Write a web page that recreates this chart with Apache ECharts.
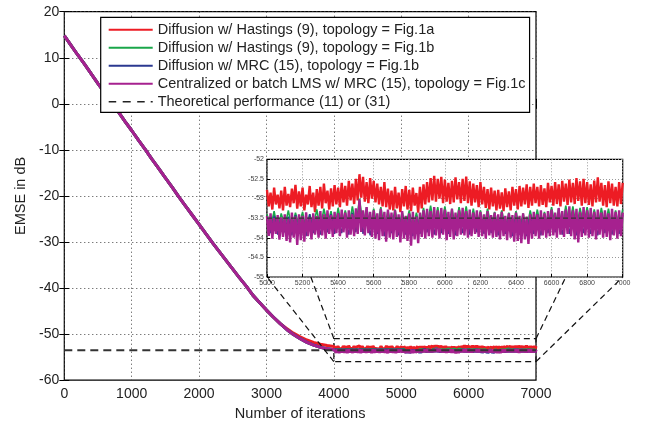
<!DOCTYPE html>
<html><head><meta charset="utf-8">
<script src="https://cdn.jsdelivr.net/npm/echarts@6/dist/echarts.min.js"></script>
<style>html,body{margin:0;padding:0;background:#fff}#c{width:646px;height:426px}</style>
</head><body><div id="c"></div>
<script>
// ---------- data ----------
const seriesNames = [
  'Diffusion w/ Hastings (9), topology = Fig.1a',
  'Diffusion w/ Hastings (9), topology = Fig.1b',
  'Diffusion w/ MRC (15), topology = Fig.1b',
  'Centralized or batch LMS w/ MRC (15), topology = Fig.1c',
  'Theoretical performance (11) or (31)'
];
const xTicksMain = [0, 1000, 2000, 3000, 4000, 5000, 6000, 7000];
const yTicksMain = [-60, -50, -40, -30, -20, -10, 0, 10, 20];
const xTicksInset = [5000, 7000, 200];   // min, max, step
const yTicksInset = [-55, -52, 0.5];

// transient part, iterations 0..4000 every 100
const curveTransient = [14.8,12.7,10.6,8.6,6.5,4.4,2.4,0.3,-1.7,-3.8,-5.8,-7.9,-9.9,-12.0,-14.0,-16.1,-18.1,-20.2,-22.2,-24.2,-26.2,-28.2,-30.2,-32.1,-34.0,-35.9,-37.8,-39.6,-41.6,-43.2,-44.8,-46.3,-47.7,-49.0,-50.1,-51.0,-51.8,-52.4,-52.9,-53.2,-53.4];
const redTransient = [14.8,12.7,10.6,8.6,6.5,4.4,2.4,0.3,-1.7,-3.8,-5.8,-7.9,-9.9,-12.0,-14.0,-16.1,-18.1,-20.2,-22.2,-24.2,-26.2,-28.2,-30.2,-32.1,-34.0,-35.9,-37.8,-39.6,-41.6,-43.2,-44.8,-46.3,-47.7,-48.8,-49.8,-50.6,-51.3,-51.8,-52.2,-52.5,-52.7];

// steady state, iterations 4020..4980 every 20
const redSteady4k = [-52.70,-53.20,-52.62,-53.15,-52.75,-53.25,-52.60,-53.12,-52.68,-53.22,
-52.55,-53.10,-52.72,-53.18,-52.64,-53.24,-52.78,-53.14,-52.58,-53.20,
-52.66,-53.12,-52.74,-53.26,-52.62,-53.16,-52.70,-53.22,-52.60,-53.10,
-52.68,-53.18,-52.76,-53.28,-52.64,-53.14,-52.72,-53.20,-52.58,-53.16,
-52.70,-53.24,-52.66,-53.12,-52.74,-53.20,-52.62,-53.18,-52.80];
const purpleSteady4k = [-53.40,-54.00,-53.34,-54.08,-53.46,-53.96,-53.32,-54.04,-53.42,-54.10,
-53.36,-53.98,-53.44,-54.06,-53.30,-53.94,-53.40,-54.02,-53.34,-54.08,
-53.46,-53.96,-53.38,-54.04,-53.32,-53.98,-53.42,-54.10,-53.36,-54.00,
-53.44,-53.94,-53.30,-54.06,-53.40,-53.98,-53.34,-54.04,-53.46,-54.12,
-53.38,-53.96,-53.42,-54.02,-53.32,-54.08,-53.40,-53.98,-53.44];

// zoomed window, iterations 5000..7000 every 10
const redInset = [
-52.78,-53.20,-52.85,-53.28,-52.72,-53.15,-52.90,-53.25,-52.80,-53.30,
-52.70,-53.18,-52.88,-53.22,-52.75,-53.12,-52.65,-53.26,-52.82,-53.20,
-52.72,-53.30,-52.90,-53.15,-52.68,-53.22,-52.85,-53.35,-52.76,-53.18,
-52.70,-53.25,-52.62,-53.12,-52.80,-53.28,-52.74,-53.20,-52.66,-53.15,
-52.72,-53.22,-52.60,-53.10,-52.68,-53.18,-52.55,-53.05,-52.62,-53.14,
-52.50,-53.05,-52.38,-52.98,-52.45,-53.08,-52.58,-53.12,-52.48,-53.00,
-52.55,-53.10,-52.62,-53.15,-52.70,-53.20,-52.58,-53.22,-52.75,-53.28,
-52.80,-53.30,-52.70,-53.25,-52.85,-53.35,-52.76,-53.20,-52.68,-53.28,
-52.78,-53.32,-52.72,-53.18,-52.86,-53.36,-52.70,-53.25,-52.64,-53.15,
-52.58,-53.10,-52.48,-53.05,-52.42,-53.08,-52.50,-53.00,-52.45,-53.12,
-52.52,-53.08,-52.60,-53.14,-52.55,-53.10,-52.46,-53.02,-52.58,-53.12,
-52.50,-53.06,-52.44,-53.12,-52.56,-53.18,-52.62,-53.10,-52.66,-53.22,
-52.58,-53.15,-52.70,-53.24,-52.76,-53.28,-52.72,-53.20,-52.80,-53.30,
-52.78,-53.26,-52.84,-53.32,-52.74,-53.22,-52.82,-53.30,-52.70,-53.18,
-52.76,-53.28,-52.68,-53.20,-52.72,-53.15,-52.64,-53.24,-52.70,-53.18,
-52.62,-53.12,-52.70,-53.20,-52.66,-53.16,-52.74,-53.22,-52.60,-53.10,
-52.68,-53.18,-52.58,-53.14,-52.64,-53.20,-52.55,-53.08,-52.62,-53.16,
-52.52,-53.10,-52.60,-53.14,-52.48,-53.06,-52.56,-53.18,-52.50,-53.12,
-52.58,-53.16,-52.64,-53.20,-52.54,-53.10,-52.46,-53.08,-52.60,-53.18,
-52.66,-53.22,-52.56,-53.12,-52.62,-53.18,-52.70,-53.20,-52.58,-53.14,
-52.60];
const purpleInset = [
-53.45,-53.95,-53.38,-54.02,-53.50,-53.90,-53.42,-54.05,-53.48,-53.98,
-53.40,-54.08,-53.52,-54.12,-53.36,-54.00,-53.46,-54.18,-53.40,-54.06,
-53.44,-54.10,-53.35,-53.96,-53.48,-54.04,-53.38,-53.92,-53.45,-54.00,
-53.32,-53.94,-53.40,-54.02,-53.30,-53.90,-53.42,-53.98,-53.34,-53.88,
-53.38,-53.96,-53.28,-53.86,-53.36,-54.00,-53.30,-53.92,-53.40,-53.96,
-53.25,-53.90,-53.02,-53.85,-53.30,-53.94,-53.22,-53.88,-53.34,-53.98,
-53.30,-54.02,-53.38,-54.06,-53.26,-53.96,-53.34,-54.10,-53.28,-54.00,
-53.36,-54.04,-53.30,-53.98,-53.40,-54.12,-53.32,-54.02,-53.44,-54.08,
-53.38,-54.20,-53.34,-54.04,-53.46,-54.14,-53.36,-53.98,-53.30,-54.02,
-53.26,-53.96,-53.32,-54.00,-53.22,-53.94,-53.30,-54.02,-53.24,-53.92,
-53.28,-54.06,-53.34,-53.98,-53.26,-54.04,-53.36,-53.96,-53.30,-53.92,
-53.24,-53.94,-53.32,-54.00,-53.28,-53.96,-53.36,-53.90,-53.30,-53.98,
-53.34,-53.96,-53.40,-54.02,-53.32,-53.94,-53.42,-54.00,-53.36,-53.98,
-53.40,-54.04,-53.34,-53.96,-53.44,-54.06,-53.38,-54.00,-53.42,-54.10,
-53.36,-54.08,-53.44,-54.14,-53.38,-54.04,-53.46,-54.16,-53.40,-54.02,
-53.34,-53.96,-53.40,-54.02,-53.30,-53.94,-53.38,-54.00,-53.32,-53.96,
-53.28,-53.94,-53.36,-54.00,-53.24,-53.92,-53.32,-53.98,-53.28,-53.90,
-53.20,-53.96,-53.30,-54.04,-53.26,-54.12,-53.34,-53.98,-53.22,-53.94,
-53.30,-54.00,-53.24,-53.96,-53.34,-54.04,-53.28,-53.92,-53.36,-54.00,
-53.30,-53.98,-53.38,-54.06,-53.26,-53.94,-53.34,-54.02,-53.30,-53.96,
-53.36];
// zoomed window, iterations 5000..7000 every 20
const greenInset = [
-53.40,-53.75,-53.32,-53.80,-53.38,-53.72,-53.30,-53.78,-53.36,-53.70,
-53.34,-53.82,-53.40,-53.74,-53.28,-53.76,-53.26,-53.70,-53.32,-53.80,
-53.24,-53.72,-53.30,-53.76,-53.20,-53.70,-53.00,-53.68,-53.22,-53.78,
-53.26,-53.74,-53.22,-53.80,-53.30,-53.72,-53.28,-53.78,-53.34,-53.70,
-53.30,-53.82,-53.36,-53.76,-53.24,-53.70,-53.18,-53.74,-53.22,-53.78,
-53.20,-53.72,-53.26,-53.76,-53.22,-53.70,-53.20,-53.80,-53.26,-53.74,
-53.30,-53.76,-53.26,-53.72,-53.34,-53.78,-53.30,-53.74,-53.36,-53.80,
-53.32,-53.76,-53.38,-53.82,-53.30,-53.74,-53.28,-53.78,-53.34,-53.72,
-53.22,-53.70,-53.26,-53.76,-53.18,-53.72,-53.20,-53.78,-53.24,-53.70,
-53.22,-53.74,-53.28,-53.76,-53.24,-53.72,-53.26,-53.78,-53.30,-53.74,
-53.28];
const blueInset = [
-53.48,-53.88,-53.44,-53.92,-53.50,-53.86,-53.46,-53.94,-53.42,-53.90,
-53.46,-53.96,-53.40,-53.88,-53.48,-53.92,-53.44,-53.86,-53.40,-53.90,
-53.38,-53.88,-53.42,-53.92,-53.36,-53.86,-53.20,-53.90,-53.40,-53.94,
-53.42,-53.90,-53.38,-53.96,-53.44,-53.88,-53.40,-53.94,-53.46,-53.92,
-53.42,-53.96,-53.46,-53.90,-53.38,-53.86,-53.34,-53.92,-53.38,-53.88,
-53.36,-53.90,-53.40,-53.94,-53.38,-53.88,-53.36,-53.92,-53.40,-53.86,
-53.44,-53.90,-53.40,-53.88,-53.46,-53.94,-53.42,-53.90,-53.48,-53.96,
-53.44,-53.92,-53.48,-53.96,-53.42,-53.90,-53.40,-53.94,-53.44,-53.88,
-53.36,-53.86,-53.40,-53.92,-53.34,-53.90,-53.36,-53.94,-53.40,-53.88,
-53.38,-53.90,-53.42,-53.94,-53.38,-53.88,-53.40,-53.92,-53.44,-53.90,
-53.42];
const theoryLevel = [-53.5];
const zoomBoxX = [4000, 7000];
const zoomBoxY = [-56, -51];

// ---------- build ----------
const FONT = '"Liberation Sans", Arial, Helvetica, sans-serif';
const colors = ['#ed1c24', '#1aa64a', '#2b3990', '#a6218f', '#333333'];
const insetWidths = [2.4, 1.6, 1.4, 2.4];
function pairs(start, step, arr) { return arr.map((v, i) => [start + i * step, v]); }
const plain = v => String(v);

const mainData = [
  pairs(0, 100, redTransient).concat(pairs(4020, 20, redSteady4k), pairs(5000, 10, redInset)),
  pairs(0, 100, curveTransient).concat(pairs(5000, 20, greenInset)),
  pairs(0, 100, curveTransient).concat(pairs(5000, 20, blueInset)),
  pairs(0, 100, curveTransient).concat(pairs(4020, 20, purpleSteady4k), pairs(5000, 10, purpleInset))
];
const insetData = [
  pairs(5000, 10, redInset),
  pairs(5000, 20, greenInset),
  pairs(5000, 20, blueInset),
  pairs(5000, 10, purpleInset)
];

const series = [];
for (let k = 0; k < 4; k++) {
  series.push({
    type: 'line', name: seriesNames[k], xAxisIndex: 0, yAxisIndex: 0,
    data: mainData[k], symbol: 'none', showSymbol: false, animation: false,
    lineStyle: { color: colors[k], width: 3 }, itemStyle: { color: colors[k] },
    emphasis: { disabled: true }, z: 2 + k * 0.1, clip: true
  });
}
series.push({
  type: 'line', name: seriesNames[4], xAxisIndex: 0, yAxisIndex: 0,
  data: [[xTicksMain[0], theoryLevel[0]], [xTicksMain[xTicksMain.length - 1], theoryLevel[0]]],
  symbol: 'none', showSymbol: false, animation: false,
  lineStyle: { color: '#333', width: 2, type: [8, 5] }, itemStyle: { color: '#222' },
  emphasis: { disabled: true }, z: 3,
  markArea: {
    silent: true, label: { show: false },
    itemStyle: { color: 'rgba(0,0,0,0)', borderColor: '#111', borderWidth: 1.2, borderType: [6, 4] },
    data: [[{ coord: [zoomBoxX[0], zoomBoxY[1]] }, { coord: [zoomBoxX[1], zoomBoxY[0]] }]]
  }
});
for (let k = 0; k < 4; k++) {
  series.push({
    type: 'line', name: seriesNames[k], xAxisIndex: 2, yAxisIndex: 2,
    data: insetData[k], symbol: 'none', showSymbol: false, animation: false,
    lineStyle: { color: colors[k], width: insetWidths[k], join: 'bevel' }, itemStyle: { color: colors[k] },
    emphasis: { disabled: true }, z: 7 + k * 0.1, clip: true
  });
}
series.push({
  type: 'line', name: seriesNames[4], xAxisIndex: 2, yAxisIndex: 2,
  data: [[xTicksInset[0], theoryLevel[0]], [xTicksInset[1], theoryLevel[0]]],
  symbol: 'none', showSymbol: false, animation: false,
  lineStyle: { color: '#333', width: 1.2, type: [5, 3] },
  emphasis: { disabled: true }, z: 8
});

const solidIcon = 'path://M0,0H44V2H0Z';
const dashIcon = 'path://M0,0H7.5V1.6H0ZM14,0H22V1.6H14ZM28.5,0H36V1.6H28.5ZM42,0H44V1.6H42Z';
const legendData = seriesNames.map((n, i) => ({ name: n, icon: i < 4 ? solidIcon : dashIcon }));

const tickStyle = { show: true, inside: true, length: 5, lineStyle: { color: '#000', width: 1 } };
const mainSplit = { show: true, lineStyle: { color: '#444', width: 1, type: [1, 3] } };
const insetSplit = { show: true, lineStyle: { color: '#999', width: 1, type: [1, 2] } };

const option = {
  backgroundColor: '#fff',
  animation: false,
  grid: [
    { left: 64.3, top: 11.7, width: 471.7, height: 371, show: true, borderColor: '#000', borderWidth: 1.2, backgroundColor: 'rgba(0,0,0,0)', containLabel: false },
    { left: 267, top: 159.3, width: 355.7, height: 117.7, show: true, borderColor: '#000', borderWidth: 1.2, backgroundColor: '#fff', z: 3, containLabel: false }
  ],
  legend: {
    data: legendData, orient: 'vertical', left: 100.7, top: 17.3,
    padding: [5, 4, 3, 8], itemWidth: 44, itemHeight: 14, itemGap: 3,
    symbolKeepAspect: true,
    backgroundColor: '#fff', borderColor: '#000', borderWidth: 1.2, borderRadius: 0,
    textStyle: { fontSize: 14.5, fontFamily: FONT, color: '#222', lineHeight: 14 },
    selectedMode: false, z: 20
  },
  xAxis: [
    { type: 'value', gridIndex: 0, position: 'bottom', min: xTicksMain[0], max: xTicksMain[xTicksMain.length - 1], interval: 1000,
      axisLine: { show: false }, axisTick: tickStyle,
      axisLabel: { fontSize: 14, fontFamily: FONT, color: '#222', margin: 7, formatter: plain },
      splitLine: mainSplit,
      name: 'Number of iterations', nameLocation: 'middle', nameGap: 21,
      nameTextStyle: { fontSize: 14.5, fontFamily: FONT, color: '#222' } },
    { type: 'value', gridIndex: 0, position: 'top', min: xTicksMain[0], max: xTicksMain[xTicksMain.length - 1], interval: 1000,
      axisLine: { show: false }, axisTick: tickStyle, axisLabel: { show: false }, splitLine: { show: false } },
    { type: 'value', gridIndex: 1, position: 'bottom', min: xTicksInset[0], max: xTicksInset[1], interval: xTicksInset[2],
      axisLine: { show: false }, axisTick: { show: true, inside: true, length: 3, lineStyle: { color: '#000' } },
      axisLabel: { fontSize: 7, fontFamily: FONT, color: '#444', margin: 3, formatter: plain },
      splitLine: insetSplit, z: 6 }
  ],
  yAxis: [
    { type: 'value', gridIndex: 0, position: 'left', min: yTicksMain[0], max: yTicksMain[yTicksMain.length - 1], interval: 10,
      axisLine: { show: false }, axisTick: tickStyle,
      axisLabel: { fontSize: 14, fontFamily: FONT, color: '#222', margin: 5, formatter: plain },
      splitLine: mainSplit,
      name: 'EMSE in dB', nameLocation: 'middle', nameGap: 36, nameRotate: 90,
      nameTextStyle: { fontSize: 14.5, fontFamily: FONT, color: '#222' } },
    { type: 'value', gridIndex: 0, position: 'right', min: yTicksMain[0], max: yTicksMain[yTicksMain.length - 1], interval: 10,
      axisLine: { show: false }, axisTick: tickStyle, axisLabel: { show: false }, splitLine: { show: false } },
    { type: 'value', gridIndex: 1, position: 'left', min: yTicksInset[0], max: yTicksInset[1], interval: yTicksInset[2],
      axisLine: { show: false }, axisTick: { show: true, inside: true, length: 3, lineStyle: { color: '#000' } },
      axisLabel: { fontSize: 7, fontFamily: FONT, color: '#444', margin: 3, formatter: plain },
      splitLine: insetSplit, z: 6 }
  ],
  series: series
};

const chart = echarts.init(document.getElementById('c'), null, { renderer: 'canvas' });
chart.setOption(option);

// connectors from zoom box corners to inset corners (hidden behind inset)
const PM = v => chart.convertToPixel({ xAxisIndex: 0, yAxisIndex: 0 }, v);
const PI = v => chart.convertToPixel({ xAxisIndex: 2, yAxisIndex: 2 }, v);
const bTL = PM([zoomBoxX[0], zoomBoxY[1]]), bBL = PM([zoomBoxX[0], zoomBoxY[0]]);
const bTR = PM([zoomBoxX[1], zoomBoxY[1]]), bBR = PM([zoomBoxX[1], zoomBoxY[0]]);
const iTL = PI([xTicksInset[0], yTicksInset[1]]), iBL = PI([xTicksInset[0], yTicksInset[0]]);
const iTR = PI([xTicksInset[1], yTicksInset[1]]), iBR = PI([xTicksInset[1], yTicksInset[0]]);
const yCut = iBL[1];
function clipTo(a, b) {
  if (b[1] >= yCut) return b;
  const t = (a[1] - yCut) / (a[1] - b[1]);
  return [a[0] + (b[0] - a[0]) * t, yCut];
}
const segs = [[bBL, clipTo(bBL, iBL)], [bTL, clipTo(bTL, iTL)], [bTR, clipTo(bTR, iTR)], [bBR, clipTo(bBR, iBR)]];
chart.setOption({
  graphic: segs.map(s => ({
    type: 'line', silent: true, z: 10,
    shape: { x1: s[0][0], y1: s[0][1], x2: s[1][0], y2: s[1][1] },
    style: { stroke: '#111', lineWidth: 1.2, lineDash: [6, 4] }
  }))
});
</script>
</body></html>
